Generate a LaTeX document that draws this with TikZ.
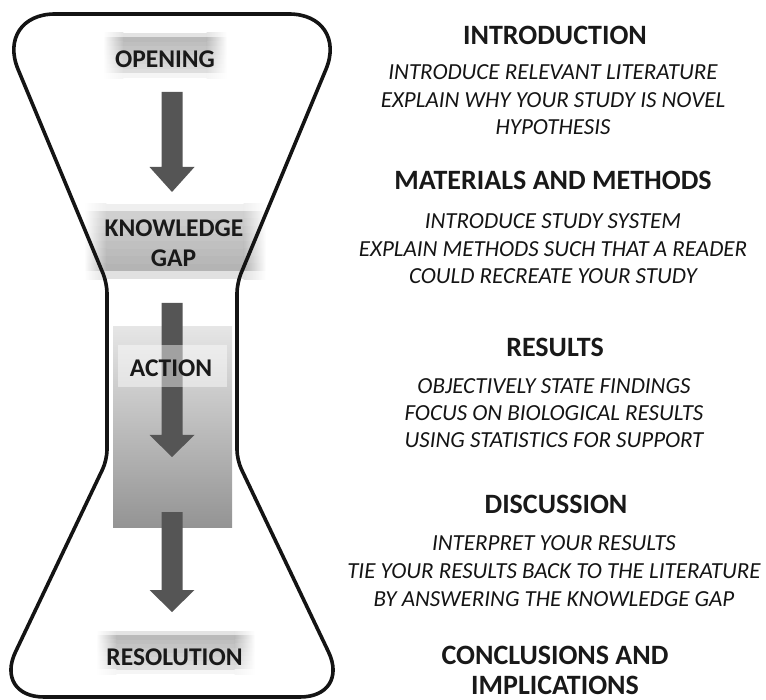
\documentclass[tikz,border=0pt]{standalone}
\usepackage{fontspec}
\setmainfont{Carlito}
\usetikzlibrary{calc}
\definecolor{arrowgray}{RGB}{85,85,85}
\tikzset{
  outline/.style={line width=3.6pt, draw=black!92, line join=round},
  head/.style={font=\bfseries\fontsize{28}{30}\selectfont, text=black!90, anchor=base, inner sep=0pt},
  item/.style={font=\itshape\fontsize{23}{25}\selectfont, text=black!92, anchor=base, inner sep=0pt},
  lab/.style={font=\bfseries\fontsize{25.5}{28}\selectfont, text=black!90, anchor=base, inner sep=0pt},
  arrowfill/.style={fill=arrowgray}
}
% soft-edged box: x1,y1,x2,y2, top grey %, bottom grey %, side ramp width
\newcommand\softbox[7]{%
  \foreach \i in {0,...,9} {
    \pgfmathsetmacro\ya{#2+(#4-#2)*\i/10}
    \pgfmathsetmacro\yb{#2+(#4-#2)*(\i+1)/10+0.4}
    \pgfmathsetmacro\edgef{min(1,(\i+0.6)/1.6,(9.6-\i)/1.6)}
    \pgfmathsetmacro\v{(#5+(#6-#5)*(\i+0.5)/10)*\edgef}
    \colorlet{bandc}{black!\v}
    \shade[left color=white, right color=bandc] (#1,\ya) rectangle ({#1+#7+0.3},\yb);
    \fill[bandc] ({#1+#7},\ya) rectangle ({#3-#7},\yb);
    \shade[left color=bandc, right color=white] ({#3-#7-0.3},\ya) rectangle (#3,\yb);
  }}
\newcommand\garrow[4]{% x, top, headtop, tip
  \fill[arrowfill] ({#1-10.5},#2) -- ({#1+10.5},#2) -- ({#1+10.5},#3) -- ({#1+22.5},#3) -- (#1,#4) -- ({#1-22.5},#3) -- ({#1-10.5},#3) -- cycle;}
\begin{document}
\begin{tikzpicture}[x=1pt,y=-1pt]
\useasboundingbox (0,0) rectangle (766,700);
% label backgrounds
\softbox{103}{33}{227}{78}{30}{10}{20}
\softbox{84}{204}{266}{279}{16}{32}{22}
\softbox{96}{631}{255}{674}{30}{10}{20}
% big gradient rectangle
\shade[top color=black!10, bottom color=black!42] (113,327) rectangle (232,527);
% hourglass outline
\coordinate (V1) at (-5,14);
\coordinate (V2) at (349,14);
\coordinate (N1) at (107,283);
\coordinate (N2) at (237,283);
\coordinate (N3) at (107,460);
\coordinate (N4) at (237,460);
\coordinate (V3) at (-6,697);
\coordinate (V4) at (350,697);
\draw[outline] (172,14)
  -- ($(V2)!60pt!(V1)$) .. controls ($(V2)!27pt!(V1)$) and ($(V2)!27pt!(N2)$) .. ($(V2)!60pt!(N2)$)
  -- ($(N2)!10pt!(V2)$) .. controls ($(N2)!4.5pt!(V2)$) and ($(N2)!4.5pt!(N4)$) .. ($(N2)!10pt!(N4)$)
  -- ($(N4)!10pt!(N2)$) .. controls ($(N4)!4.5pt!(N2)$) and ($(N4)!4.5pt!(V4)$) .. ($(N4)!10pt!(V4)$)
  -- ($(V4)!50pt!(N4)$) .. controls ($(V4)!22pt!(N4)$) and ($(V4)!22pt!(V3)$) .. ($(V4)!50pt!(V3)$)
  -- ($(V3)!50pt!(V4)$) .. controls ($(V3)!22pt!(V4)$) and ($(V3)!22pt!(N3)$) .. ($(V3)!50pt!(N3)$)
  -- ($(N3)!10pt!(V3)$) .. controls ($(N3)!4.5pt!(V3)$) and ($(N3)!4.5pt!(N1)$) .. ($(N3)!10pt!(N1)$)
  -- ($(N1)!10pt!(N3)$) .. controls ($(N1)!4.5pt!(N3)$) and ($(N1)!4.5pt!(V1)$) .. ($(N1)!10pt!(V1)$)
  -- ($(V1)!60pt!(N1)$) .. controls ($(V1)!27pt!(N1)$) and ($(V1)!27pt!(V2)$) .. ($(V1)!60pt!(V2)$)
  -- cycle;
% arrows
\garrow{172}{92}{167}{192}
\garrow{172}{303}{435}{457}
\garrow{172}{512}{590}{612}
% action veil
\fill[white, fill opacity=0.45] (118,345) rectangle (227,387);
% left labels
\node[lab] (opening) at (165,67.5) {OPENING};
\node[lab] (knowledge) at (174,237) {KNOWLEDGE};
\node[lab] (gap) at (173.5,267) {GAP};
\node[lab] (action) at (171,377) {ACTION};
\node[lab] (resolution) at (174.5,665) {RESOLUTION};
% right texts
\node[head] (intro) at (555,45) {INTRODUCTION};
\node[item] (i1) at (553,80) {INTRODUCE RELEVANT LITERATURE};
\node[item] (i2) at (553,107.5) {EXPLAIN WHY YOUR STUDY IS NOVEL};
\node[item] (i3) at (553,135) {HYPOTHESIS};
\node[head] (mm) at (553,190) {MATERIALS AND METHODS};
\node[item] (m1) at (553,229) {INTRODUCE STUDY SYSTEM};
\node[item] (m2) at (553,256.5) {EXPLAIN METHODS SUCH THAT A READER};
\node[item] (m3) at (553,284) {COULD RECREATE YOUR STUDY};
\node[head] (res) at (555,357) {RESULTS};
\node[item] (r1) at (554,394) {OBJECTIVELY STATE FINDINGS};
\node[item] (r2) at (554,421) {FOCUS ON BIOLOGICAL RESULTS};
\node[item] (r3) at (554,448) {USING STATISTICS FOR SUPPORT};
\node[head] (disc) at (556,513) {DISCUSSION};
\node[item] (d1) at (554,550) {INTERPRET YOUR RESULTS};
\node[item] (d2) at (554,578) {TIE YOUR RESULTS BACK TO THE LITERATURE};
\node[item] (d3) at (554,606) {BY ANSWERING THE KNOWLEDGE GAP};
\node[head] (conc) at (555,664) {CONCLUSIONS AND};
\node[head] (impl) at (555,694) {IMPLICATIONS};
\end{tikzpicture}
\end{document}
